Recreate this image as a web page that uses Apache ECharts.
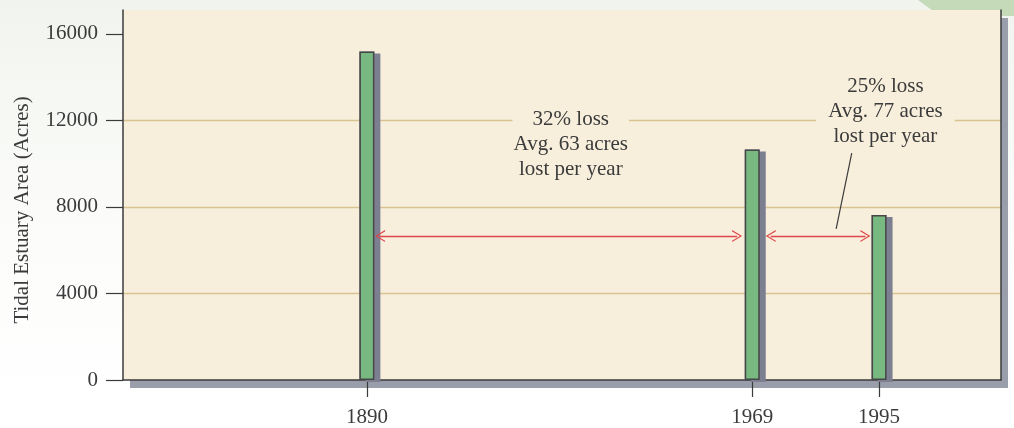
<!DOCTYPE html>
<html>
<head>
<meta charset="utf-8">
<script src="https://cdn.jsdelivr.net/npm/echarts@6/dist/echarts.min.js"></script>
<style>
html, body { margin: 0; padding: 0; background: #fff; }
#chart { width: 1014px; height: 428px; }
</style>
</head>
<body>
<div id="chart"></div>
<script>
const years = [1890, 1969, 1995]
const acres = [15180, 10650, 7630]
const yTicks = [0, 4000, 8000, 12000, 16000]
const notes = ['32% loss\nAvg. 63 acres\nlost per year', '25% loss\nAvg. 77 acres\nlost per year']

const serif = '"Liberation Serif", "DejaVu Serif", serif'
const ink = '#3b3b3b'
const paper = '#f7efdc'
const red = '#e0464c'
// open chevron, tip up (markLine turns it along the line)
const chevron = 'path://M5,0 L10,10 L8.9,10 L5,2.2 L1.1,10 L0,10 Z'

var barData = years.map((y, i) => [y, acres[i]])

var chart = echarts.init(document.getElementById('chart'))

var option = {
  animation: false,
  backgroundColor: new echarts.graphic.LinearGradient(0, 0, 0, 1, [
    { offset: 0, color: '#f1f4ee' },
    { offset: 0.5, color: '#fbfcfa' },
    { offset: 1, color: '#ffffff' }
  ]),
  graphic: [{
    type: 'polygon',
    z: -10,
    shape: { points: [[918, 0], [1014, 0], [1014, 16], [940, 16]] },
    style: { fill: '#c4dab9' }
  }],
  grid: {
    left: 123,
    right: 13,
    top: 10,
    bottom: 45,
    show: true,
    backgroundColor: paper,
    borderWidth: 0,
    shadowColor: '#9a9eab',
    shadowBlur: 0,
    shadowOffsetX: 7,
    shadowOffsetY: 8
  },
  xAxis: {
    type: 'value',
    min: 1840,
    max: 2020,
    splitLine: { show: false },
    axisLine: { lineStyle: { color: ink, width: 1.5 } },
    axisTick: { customValues: years, length: 17, lineStyle: { color: ink, width: 1.2 } },
    axisLabel: {
      customValues: years,
      formatter: v => String(v),
      margin: 27,
      fontFamily: serif,
      fontSize: 21,
      color: ink
    }
  },
  yAxis: [
    {
      type: 'value',
      min: 0,
      max: 17100,
      interval: 4000,
      name: 'Tidal Estuary Area (Acres)',
      nameLocation: 'middle',
      nameGap: 90,
      nameTextStyle: { fontFamily: serif, fontSize: 21, color: ink, padding: [0, 30, 0, 0] },
      axisLine: { show: true, lineStyle: { color: ink, width: 1.5 } },
      axisTick: { show: true, customValues: yTicks, length: 17, lineStyle: { color: ink, width: 1.2 } },
      axisLabel: {
        customValues: yTicks,
        formatter: v => String(v),
        margin: 25,
        fontFamily: serif,
        fontSize: 21,
        color: ink
      },
      splitLine: {
        show: true,
        showMinLine: false,
        showMaxLine: false,
        lineStyle: { color: '#d8c391', width: 1.3 }
      }
    },
    {
      type: 'value',
      position: 'right',
      min: 0,
      max: 17100,
      axisLine: { show: true, lineStyle: { color: ink, width: 1.5 } },
      axisTick: { show: false },
      axisLabel: { show: false },
      splitLine: { show: false }
    }
  ],
  series: [
    {
      // grey drop shadow behind each bar
      type: 'bar',
      barWidth: 15,
      barGap: '-100%',
      data: barData,
      silent: true,
      itemStyle: {
        color: '#7b7f90',
        shadowColor: '#7b7f90',
        shadowBlur: 0,
        shadowOffsetX: 6,
        shadowOffsetY: 2
      },
      z: 2
    },
    {
      type: 'bar',
      barWidth: 15,
      barGap: '-100%',
      data: barData,
      itemStyle: {
        color: '#78b981',
        borderColor: '#474747',
        borderWidth: 1.5
      },
      z: 3
    },
    {
      type: 'line',
      data: [],
      z: 4,
      markLine: {
        silent: true,
        symbol: [chevron, chevron],
        symbolSize: [12, 10],
        label: { show: false },
        lineStyle: { color: red, width: 1.3, type: 'solid' },
        data: [
          [{ coord: [1892.7, 6650] }, { coord: [1965.9, 6650] }],
          [{ coord: [1972.8, 6650] }, { coord: [1992.2, 6650] }],
          [
            { coord: [1989.4, 10490], symbol: 'none', lineStyle: { color: ink, width: 1.2 } },
            { coord: [1986.2, 6990], symbol: 'none' }
          ]
        ]
      }
    },
    {
      type: 'scatter',
      symbolSize: 1,
      itemStyle: { color: 'rgba(0,0,0,0)', opacity: 1 },
      silent: true,
      z: 5,
      data: [
        { value: [1931.8, 10870], name: notes[0], label: { padding: [0, 1] } },
        { value: [1996.3, 12414], name: notes[1], label: { padding: [0, 12] } }
      ],
      label: {
        show: true,
        position: 'inside',
        formatter: '{b}',
        fontFamily: serif,
        fontSize: 21,
        lineHeight: 25,
        color: ink,
        align: 'center',
        verticalAlign: 'middle',
        backgroundColor: paper
      }
    }
  ]
}

chart.setOption(option, true)

window.addEventListener('resize', function () {
  chart && chart.resize()
})
</script>
</body>
</html>
